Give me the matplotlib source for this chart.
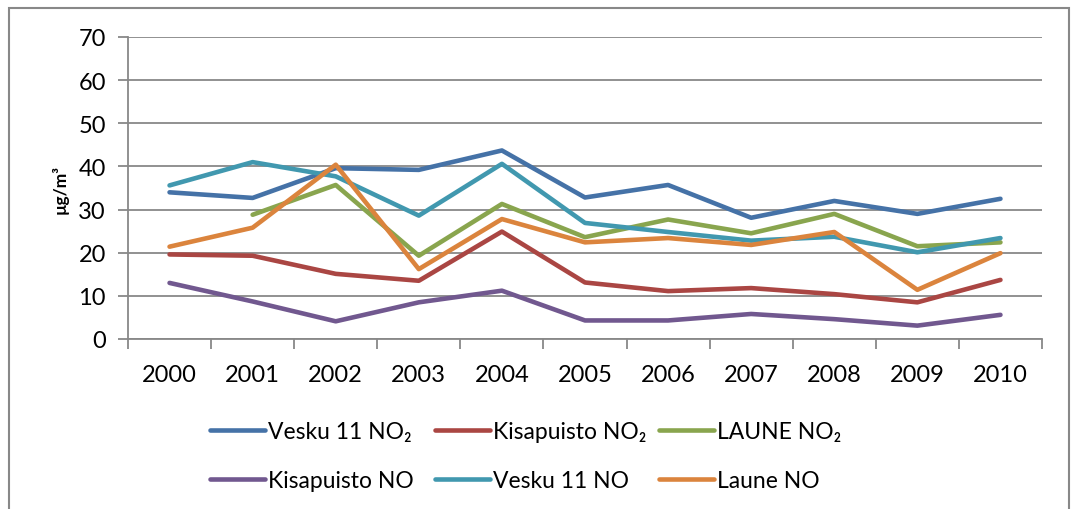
import matplotlib
matplotlib.use("Agg")
import matplotlib.pyplot as plt
from matplotlib.patches import Rectangle
from matplotlib.ticker import FixedLocator, NullFormatter

plt.rcParams['font.family'] = ['Lato', 'DejaVu Sans']

vuodet = ['2000', '2001', '2002', '2003', '2004', '2005',
          '2006', '2007', '2008', '2009', '2010']

vesku_no2 = [34.0, 32.7, 39.6, 39.2, 43.7, 32.8, 35.7, 28.1, 32.0, 29.0, 32.5]
kisapuisto_no2 = [19.6, 19.3, 15.1, 13.5, 24.9, 13.1, 11.1, 11.8, 10.4, 8.5, 13.7]
laune_no2 = [None, 28.8, 35.7, 19.3, 31.3, 23.6, 27.7, 24.5, 29.0, 21.5, 22.4]
kisapuisto_no = [13.0, 8.7, 4.1, 8.5, 11.2, 4.3, 4.3, 5.8, 4.6, 3.1, 5.6]
vesku_no = [35.6, 41.0, 37.7, 28.6, 40.6, 26.9, 24.8, 22.8, 23.7, 20.1, 23.4]
laune_no = [21.4, 25.8, 40.4, 16.2, 27.8, 22.4, 23.4, 21.8, 24.8, 11.4, 19.9]

sarjat = [
    ("Vesku 11 NO₂", vesku_no2, "#4572A7"),
    ("Kisapuisto NO₂", kisapuisto_no2, "#AA4643"),
    ("LAUNE NO₂", laune_no2, "#89A54E"),
    ("Kisapuisto NO", kisapuisto_no, "#71588F"),
    ("Vesku 11 NO", vesku_no, "#4198AF"),
    ("Laune NO", laune_no, "#DB843D"),
]

fig = plt.figure(figsize=(10.73, 5.10), dpi=100)
ax = fig.add_axes([128/1073, 1 - 340/510, (1042-128)/1073, (340-38)/510])

x = list(range(len(vuodet)))
viivat = []
for nimi, arvot, vari in sarjat:
    xs = [i for i, v in zip(x, arvot) if v is not None]
    ys = [v for v in arvot if v is not None]
    l, = ax.plot(xs, ys, color=vari, lw=3.3, label=nimi, solid_capstyle='round')
    viivat.append(l)

harmaa = "#888888"
ax.set_xlim(-0.5, len(vuodet) - 0.5)
ax.set_ylim(0, 70)
ax.set_yticks(range(0, 71, 10))
ax.yaxis.grid(True, color=harmaa, lw=1.3)
ax.set_axisbelow(True)
for s in ['top', 'right']:
    ax.spines[s].set_visible(False)
for s in ['left', 'bottom']:
    ax.spines[s].set_color(harmaa)
    ax.spines[s].set_linewidth(1.3)

ax.set_xticks(x)
ax.set_xticklabels(vuodet)
ax.xaxis.set_minor_locator(FixedLocator([i - 0.5 for i in range(len(vuodet) + 1)]))
ax.xaxis.set_minor_formatter(NullFormatter())
ax.tick_params(axis='x', which='major', length=0, pad=18, labelsize=17)
ax.tick_params(axis='x', which='minor', length=7, width=1.3, color=harmaa)
ax.tick_params(axis='y', length=7, width=1.3, color=harmaa, pad=9, labelsize=17)

fig.text(60/1073, 1 - 190/510, "µg/m³", rotation=90, fontsize=12.5,
         fontweight='bold', ha='center', va='center')

# legend: three columns of equal width, like Excel
sarake_x = [210, 435, 659]
for k, sx in enumerate(sarake_x):
    fig.legend([viivat[k], viivat[k + 3]], [sarjat[k][0], sarjat[k + 3][0]],
               loc='upper left', bbox_to_anchor=(sx/1073, 1 - 422/510),
               frameon=False, fontsize=16.5, handlelength=2.4,
               handletextpad=0.15, labelspacing=1.22, borderpad=0,
               borderaxespad=0)

fig.patches.append(Rectangle((9/1073, -0.1), (1069-9)/1073, 1.1 - 9/510,
                             transform=fig.transFigure, fill=False,
                             edgecolor=harmaa, lw=1.5))

fig.savefig("out.png", dpi=100)
